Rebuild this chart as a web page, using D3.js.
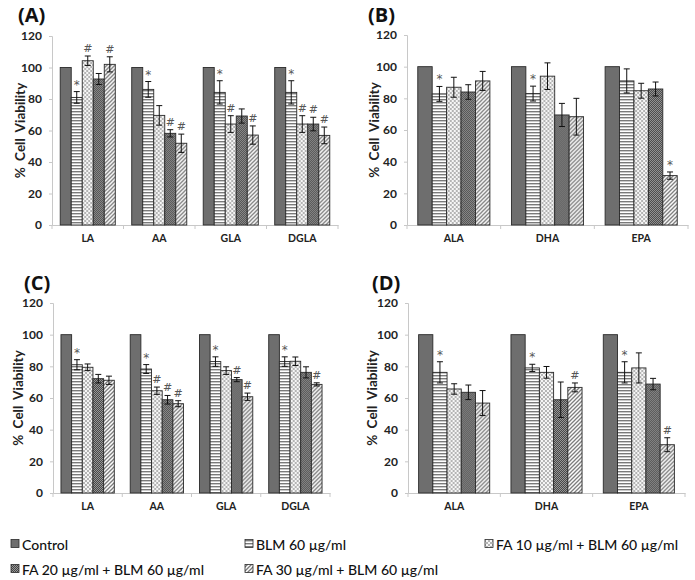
<!DOCTYPE html>
<html><head><meta charset="utf-8">
<script src="https://cdn.jsdelivr.net/npm/d3@7/dist/d3.min.js"></script>
<style>
html,body{margin:0;padding:0;background:#fff;}
svg{display:block;font-family:Lato,"Open Sans",sans-serif;}
.mk{opacity:0.99;}
</style></head><body>
<svg id="chart" width="695" height="580"></svg>
<script>
// ---------- DATA ----------
const seriesNames = ["Control","BLM 60 µg/ml","FA 10 µg/ml + BLM 60 µg/ml","FA 20 µg/ml + BLM 60 µg/ml","FA 30 µg/ml + BLM 60 µg/ml"];
const yTicks = [0,20,40,60,80,100,120];
const catsAC = ["LA","AA","GLA","DGLA"];
const catsBD = ["ALA","DHA","EPA"];

// Panel A
const valuesA = [[100,81,104.3,92.7,102],[100,86.1,69.6,58.2,51.9],[100,84.2,64.1,69.2,57.1],[100,84.2,64.1,64.1,56.9]];
const errorsA = [[0,3.7,3,3.5,4.8],[0,5,6.2,2.3,5.8],[0,7.4,5.3,4.5,5.8],[0,7.4,5.3,4.3,5.3]];
const marksA  = [["","*","#","","#"],["","*","","#","#"],["","*","#","","#"],["","*","#","#","#"]];
// Panel B
const valuesB = [[100,82.8,87,84,91],[100,83,94,69.5,68.4],[100,91,84.8,85.9,31.2]];
const errorsB = [[0,4.7,6.3,4.6,6],[0,4.7,8.4,7.3,11.6],[0,7.6,4.7,4.4,2.3]];
const marksB  = [["","*","","",""],["","*","","",""],["","","","","*"]];
// Panel C
const valuesC = [[100,81,79.4,72.2,71.2],[100,78.3,64.6,58.9,56.4],[100,83,77.3,71.6,60.8],[100,83,83.2,76.2,68.6]];
const errorsC = [[0,3.2,2.1,2.7,2.6],[0,2.8,2.3,2.7,1.9],[0,3,2.4,1.3,2.3],[0,3,2.7,3.5,1]];
const marksC  = [["","*","","",""],["","*","#","#","#"],["","*","","#","#"],["","*","","","#"]];
// Panel D
const valuesD = [[100,76.2,65.7,63.6,56.8],[100,79,76.2,58.9,66.7],[100,76.2,79,68.8,30.5]];
const errorsD = [[0,6.7,3.3,4.6,7.9],[0,2.3,3.7,11.2,2.8],[0,6.7,9.5,3.6,4.4]];
const marksD  = [["","*","","",""],["","*","","","#"],["","*","","","#"]];

// ---------- DRAW ----------
const svg = d3.select("#chart");
const defs = svg.append("defs");

function pat(id, w, h, build){
  const p = defs.append("pattern").attr("id",id).attr("patternUnits","userSpaceOnUse")
    .attr("x",0).attr("y",0).attr("width",w).attr("height",h);
  build(p);
}
pat("pBLM",4,3,p=>{
  p.append("rect").attr("width",4).attr("height",3).attr("fill","#fff");
  p.append("rect").attr("width",4).attr("height",1.4).attr("fill","#7a7a7a");
});
pat("pFA10",4,4,p=>{
  p.append("rect").attr("width",4).attr("height",4).attr("fill","#f6f6f6");
  p.append("rect").attr("width",2).attr("height",2).attr("fill","#b4b4b4");
  p.append("rect").attr("x",2).attr("y",2).attr("width",2).attr("height",2).attr("fill","#b4b4b4");
});
pat("pFA20",2,2,p=>{
  p.append("rect").attr("width",2).attr("height",2).attr("fill","#9a9a9a");
  p.append("rect").attr("width",1).attr("height",1).attr("fill","#444");
  p.append("rect").attr("x",1).attr("y",1).attr("width",1).attr("height",1).attr("fill","#444");
});
pat("pFA30",4,4,p=>{
  p.append("rect").attr("width",4).attr("height",4).attr("fill","#fff");
  p.append("path").attr("d","M0,4L4,0M-1,1L1,-1M3,5L5,3").attr("stroke","#7a7a7a").attr("stroke-width",1.3);
});
const fills = ["#6e6e6e","url(#pBLM)","url(#pFA10)","url(#pFA20)","url(#pFA30)"];

const panels = [
  {label:"(A)", lx:18, ly:22, cats:catsAC, vals:valuesA, errs:errorsA, marks:marksA, left:52, right:338, top:36, bottom:225, ylx:20},
  {label:"(B)", lx:368, ly:22, cats:catsBD, vals:valuesB, errs:errorsB, marks:marksB, left:407, right:688, top:35, bottom:225, ylx:374},
  {label:"(C)", lx:24, ly:290, cats:catsAC, vals:valuesC, errs:errorsC, marks:marksC, left:53, right:330, top:303, bottom:493, ylx:18},
  {label:"(D)", lx:372, ly:290, cats:catsBD, vals:valuesD, errs:errorsD, marks:marksD, left:408, right:685, top:303, bottom:493, ylx:372}
];

panels.forEach(P=>{
  const g = svg.append("g");
  const y = d3.scaleLinear().domain([0,120]).range([P.bottom,P.top]);
  const x0 = d3.scaleBand().domain(P.cats).range([P.left,P.right]).paddingInner(0).paddingOuter(0);
  const groupW = x0.bandwidth()*0.77;
  const x1 = d3.scaleBand().domain(d3.range(5)).range([0,groupW]);

  const ya = g.append("g").attr("transform",`translate(${P.left},0)`)
    .call(d3.axisLeft(y).tickValues(yTicks).tickSize(3).tickPadding(7));
  ya.select(".domain").attr("stroke","#c8c8c8");
  ya.selectAll(".tick line").attr("stroke","#c8c8c8");
  ya.selectAll(".tick text").attr("font-size",12).attr("font-weight","bold").attr("fill","#222")
    .attr("font-family","Lato,sans-serif");

  const xa = g.append("g").attr("transform",`translate(0,${P.bottom})`)
    .call(d3.axisBottom(x0).tickSize(0).tickPadding(10));
  xa.select(".domain").attr("stroke","#c8c8c8");
  xa.selectAll(".tick text").attr("font-size",10.5).attr("font-weight","bold").attr("fill","#222")
    .attr("font-family","Lato,sans-serif");
  const seps = P.cats.map(c=>x0(c)).concat([P.right]);
  g.selectAll(".sep").data(seps).enter().append("line")
    .attr("x1",d=>d).attr("x2",d=>d).attr("y1",P.bottom).attr("y2",P.bottom+4)
    .attr("stroke","#c8c8c8");

  P.cats.forEach((c,ci)=>{
    const gx = x0(c) + (x0.bandwidth()-groupW)/2;
    const cg = g.append("g").attr("transform",`translate(${gx},0)`);
    const rows = P.vals[ci].map((v,si)=>({v, e:P.errs[ci][si], m:P.marks[ci][si], si}));
    cg.selectAll("rect.bar").data(rows).enter().append("rect").attr("class","bar")
      .attr("x",d=>x1(d.si)).attr("width",x1.bandwidth())
      .attr("y",d=>y(d.v)).attr("height",d=>y(0)-y(d.v))
      .attr("fill",d=>fills[d.si]).attr("stroke","#2a2a2a").attr("stroke-width",0.9);
    const eb = rows.filter(d=>d.e>0);
    const cx = d=>x1(d.si)+x1.bandwidth()/2;
    cg.selectAll("line.ev").data(eb).enter().append("line")
      .attr("x1",cx).attr("x2",cx).attr("y1",d=>y(d.v+d.e)).attr("y2",d=>y(d.v-d.e))
      .attr("stroke","#111").attr("stroke-width",1);
    cg.selectAll("line.et").data(eb).enter().append("line")
      .attr("x1",d=>cx(d)-3).attr("x2",d=>cx(d)+3).attr("y1",d=>y(d.v+d.e)).attr("y2",d=>y(d.v+d.e))
      .attr("stroke","#111").attr("stroke-width",1);
    cg.selectAll("line.eb").data(eb).enter().append("line")
      .attr("x1",d=>cx(d)-3).attr("x2",d=>cx(d)+3).attr("y1",d=>y(d.v-d.e)).attr("y2",d=>y(d.v-d.e))
      .attr("stroke","#111").attr("stroke-width",1);
    cg.selectAll("text.mk").data(rows.filter(d=>d.m)).enter().append("text").attr("class","mk")
      .attr("x",cx).attr("y",d=>y(d.v+d.e)-(d.m==="*"?3:4))
      .attr("text-anchor","middle")
      .attr("fill","#555").attr("font-family","'DejaVu Sans',sans-serif")
      .attr("font-size",d=>d.m==="*"?12:11)
      .text(d=>d.m);
  });

  g.append("text").attr("transform",`translate(${P.ylx},${(P.top+P.bottom)/2}) rotate(-90)`)
    .attr("text-anchor","middle").attr("dominant-baseline","central")
    .attr("font-size",13.5).attr("font-weight","bold").attr("fill","#222").attr("word-spacing",3)
    .text("% Cell Viability");

  g.append("text").attr("x",P.lx).attr("y",P.ly).attr("font-size",20).attr("font-weight","bold")
    .attr("fill","#111").attr("font-family","'Open Sans',sans-serif").text(P.label);
});

const legPos = [[11,544],[245,544],[485,544],[11,569],[245,569]];
const lg = svg.append("g");
seriesNames.forEach((n,i)=>{
  const [lx,ly] = legPos[i];
  lg.append("rect").attr("x",lx).attr("y",ly-4.5).attr("width",8).attr("height",8)
    .attr("fill",fills[i]).attr("stroke","#2a2a2a").attr("stroke-width",0.8);
  lg.append("text").attr("x",lx+11).attr("y",ly).attr("dominant-baseline","central")
    .attr("font-size",14).attr("font-weight",500).attr("fill","#111").text(n);
});
</script>
</body></html>
